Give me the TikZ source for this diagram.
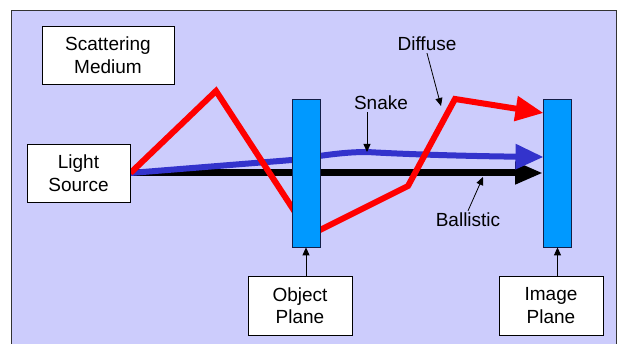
\documentclass[tikz,border=0pt]{standalone}
\usepackage{fontspec}
\setmainfont{Liberation Sans}
\usetikzlibrary{arrows.meta}
\definecolor{mediumbg}{RGB}{204,204,252}
\definecolor{planeblue}{RGB}{0,153,255}
\definecolor{snakeblue}{RGB}{51,51,204}
\definecolor{planeedge}{RGB}{20,30,70}
\pgfdeclarelayer{bg}
\pgfdeclarelayer{rays}
\pgfsetlayers{bg,rays,main}

\begin{document}
\begin{tikzpicture}[x=1pt,y=-1pt,
  box/.style={draw,fill=white,line width=0.9pt,align=center,inner sep=0pt,
    font=\fontsize{19}{22.5}\selectfont},
  plane/.style={draw=planeedge,fill=planeblue,line width=0.8pt,
    minimum width=28pt,minimum height=148pt,inner sep=0pt},
  tag/.style={font=\fontsize{19}{22.5}\selectfont,inner sep=2pt},
  pointer/.style={-{Triangle[length=8pt,width=7pt]},line width=0.8pt},
  ray/.style={line width=6pt,-{Triangle[length=28pt,width=24pt]}}]
  \useasboundingbox (0,0) rectangle (619,344);
  % Scattering medium (background)
  \begin{pgfonlayer}{bg}
    \fill[mediumbg] (11,10) rectangle (616,350);
    \draw[black!80,line width=0.8pt] (11,350) -- (11,10) -- (616,10) -- (616,350);
  \end{pgfonlayer}
  % Boxes
  \node[box,minimum width=132pt,minimum height=58pt] (medium) at (108,55) {Scattering\\Medium};
  \node[box,minimum width=103pt,minimum height=58pt] (source) at (78.5,173) {Light\\Source};
  \node[box,minimum width=104pt,minimum height=59pt] (objlabel) at (300,305.5) {Object\\Plane};
  \node[box,minimum width=104pt,minimum height=59pt] (imglabel) at (551,305.5) {Image\\Plane};
  % Object and image planes
  \node[plane] (objbar) at (306,173) {};
  \node[plane] (imgbar) at (557.5,173) {};
  % Points on the rays
  \coordinate (snaketip) at (543.5,157);
  \coordinate (diffusetip) at (543.5,113);
  \coordinate (snakehit) at (367,152);
  \coordinate (diffusehit) at (441,106);
  \coordinate (ballistichit) at (483,177);
  % Rays, behind the planes
  \begin{pgfonlayer}{rays}
    % Ballistic
    \draw[ray,line width=7pt,-{Triangle[length=28pt,width=21pt]}] (source.east) -- (imgbar.west);
    % Snake
    \draw[ray,snakeblue] (source.east) -- (292,160) .. controls (325,155) and (345,152) .. (367,152)
      .. controls (400,154) and (460,156) .. (snaketip);
    % Diffuse
    \draw[ray,red] (source.east) -- (216,91) -- (310,235) -- (408,186) -- (455,99) -- (diffusetip);
  \end{pgfonlayer}
  % Labels
  \node[tag] (snake) at (381,103) {Snake};
  \node[tag] (diffuse) at (427,44) {Diffuse};
  \node[tag] (ballistic) at (468,220) {Ballistic};
  \draw[pointer] (snakehit |- snake.south) -- (snakehit);
  \draw[pointer] (diffuse.south) -- (diffusehit);
  \draw[pointer] (ballistic.north) -- (ballistichit);
  \draw[pointer] (objbar.south |- objlabel.north) -- (objbar.south);
  \draw[pointer] (imgbar.south |- imglabel.north) -- (imgbar.south);
\end{tikzpicture}
\end{document}
